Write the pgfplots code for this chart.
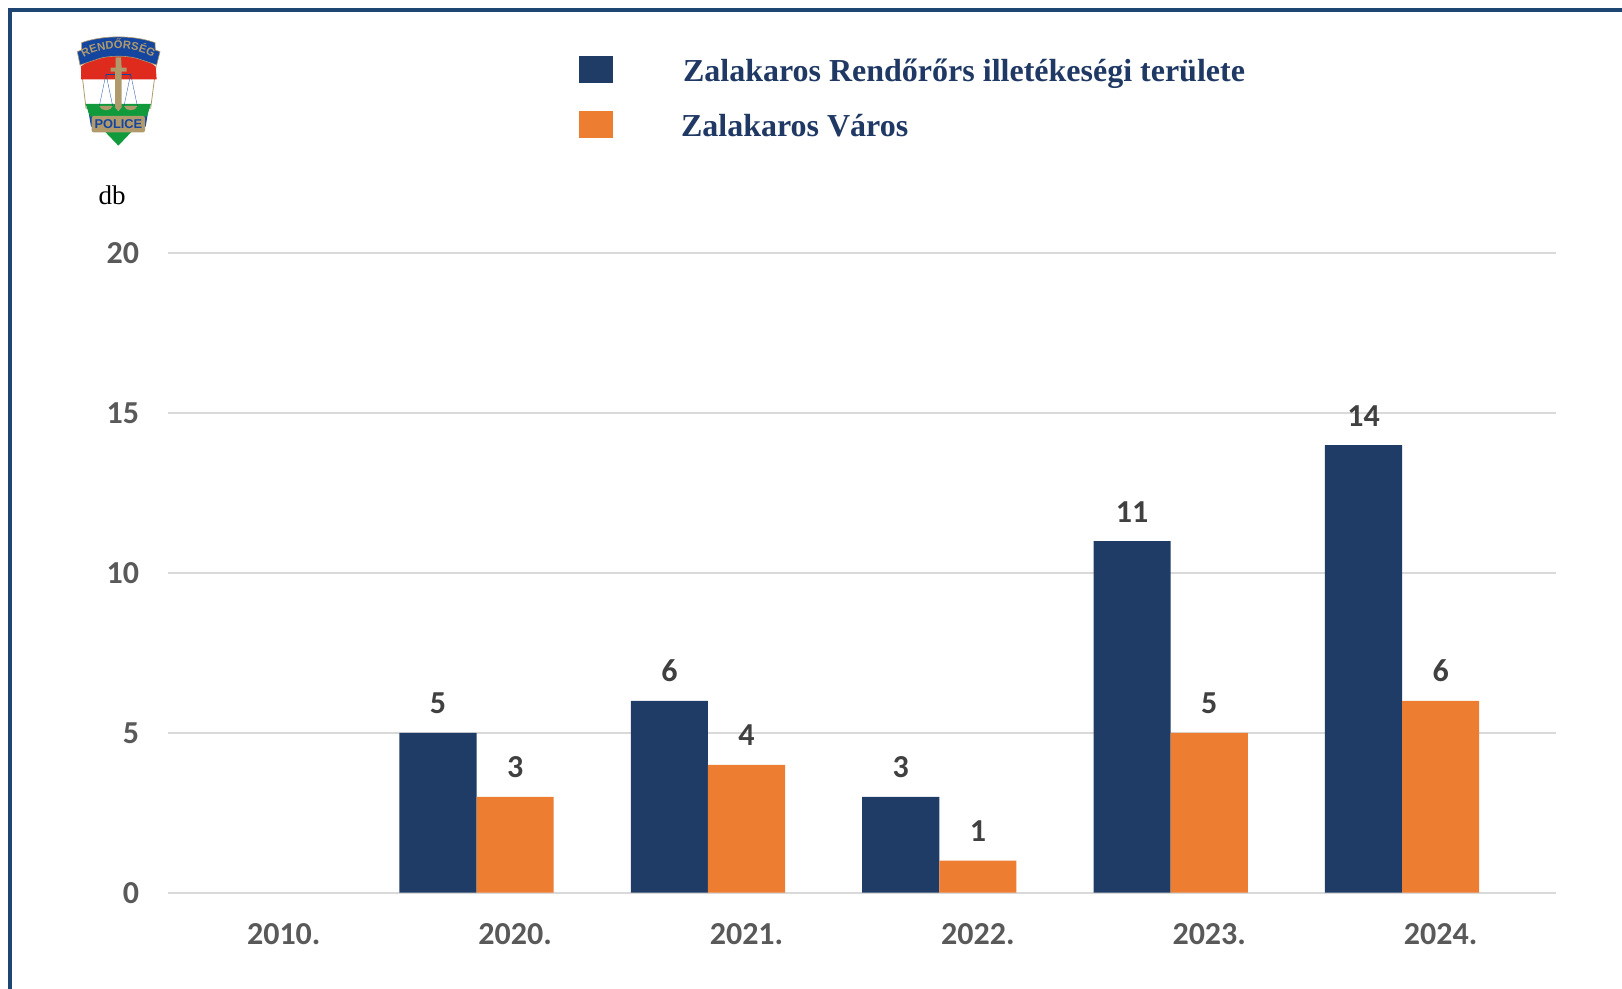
\documentclass[border=0pt]{standalone}
\usepackage{fontspec}
\setmainfont{Carlito}
\newfontfamily\legendfont{Liberation Serif}
\newfontfamily\logofont{Liberation Sans}
\usepackage{pgfplots}
\pgfplotsset{compat=1.18}
\usetikzlibrary{decorations.text}
\definecolor{navy}{HTML}{1F3864}
\definecolor{barblue}{HTML}{1E3C66}
\definecolor{barorange}{HTML}{ED7D31}
\definecolor{framecol}{HTML}{1F4673}
\definecolor{gridgrey}{HTML}{D9D9D9}
\definecolor{tickgrey}{HTML}{595959}
\definecolor{labelgrey}{HTML}{404040}
\definecolor{logotan}{HTML}{B09A6C}
\definecolor{logoblue}{HTML}{1446A0}
\definecolor{logored}{HTML}{DF2A1E}
\definecolor{logogreen}{HTML}{119A3C}
\begin{document}
\begin{tikzpicture}
\begin{axis}[
    /pgf/number format/assume math mode=true,
    scale only axis,
    width=694.1pt, height=319.65pt,
    xmin=-0.5, xmax=5.5,
    ymin=0, ymax=20,
    ytick={0,5,10,15,20},
    xtick={0,1,2,3,4,5},
    xticklabels={2010.,2020.,2021.,2022.,2023.,2024.},
    ymajorgrids,
    major grid style={gridgrey, line width=1pt},
    axis line style={draw=none},
    major tick length=0pt,
    tick label style={font=\fontsize{16}{18}\selectfont\bfseries, text=tickgrey},
    yticklabel style={xshift=-11pt},
    xticklabel style={yshift=-12pt},
    ybar,
    bar width=0.3333,
    nodes near coords,
    every node near coord/.append style={font=\fontsize{16}{18}\selectfont\bfseries, text=labelgrey, yshift=6pt},
    legend style={at={(axis description cs:0.296,1.3097)}, anchor=north west, draw=none, fill=none,
        font=\legendfont\fontsize{16}{18}\selectfont\bfseries, text=navy,
        inner sep=0pt, outer sep=0pt, row sep=10.8pt, column sep=33pt},
    legend cell align=left,
    legend image code/.code={\fill[#1, draw=none] (0pt,-5.25pt) rectangle (17pt,8.25pt);},
]
\addplot[fill=barblue, draw=none, bar shift=-0.3333] coordinates {(1,5) (2,6) (3,3) (4,11) (5,14)};
\addlegendentry{Zalakaros Rendőrőrs illetékeségi területe}
\addplot[fill=barorange, draw=none, bar shift=0] coordinates {(1,3) (2,4) (3,1) (4,5) (5,6)};
\addlegendentry{\hspace*{-1pt}Zalakaros Város}
\end{axis}
% everything below in pixels of the reference
\begin{scope}[shift={(-84.05pt,446.35pt)}, x=0.5pt, y=-0.5pt]
\path[use as bounding box] (0,0) rectangle (1622,989);
\draw[framecol, line width=2pt] (10,989) -- (10,10.5) -- (1622,10.5);
\node[font=\legendfont\fontsize{13.5}{16}\selectfont, text=black] at (112,195) {db};
\end{scope}
% logo, units are 1/3 px
\begin{scope}[shift={(-84.05pt,446.35pt)}, x=0.16667pt, y=-0.16667pt]
\fill[white, draw=logotan, line width=0.4pt] (240,170) -- (258,325) -- (452,325) -- (472,170) -- cycle;
\fill[logored] (243,200) .. controls (290,155) and (420,155) .. (467,200) -- (470,238) -- (243,238) -- cycle;
\fill[logoblue] (265,332) -- (445,332) -- (437,380) -- (273,380) -- cycle;
\fill[logogreen] (257,312) -- (453,312) -- (440,350) -- (270,350) -- cycle;
\fill[logogreen] (315,395) -- (395,395) -- (355,437) -- cycle;
\fill[logoblue, draw=logotan, line width=0.3pt] (245,128) .. controls (310,105) and (400,105) .. (465,128)
    -- (466,150) -- (480,155) -- (470,195) -- (425,180) .. controls (390,165) and (320,165) .. (285,180)
    -- (240,195) -- (232,155) -- (245,150) -- cycle;
\path[decorate, decoration={text along path, text align=center,
    text={|\logofont\fontsize{5.6}{6}\selectfont\bfseries\color{logotan}|RENDŐRSÉG}}]
    (255,170) .. controls (310,138) and (400,138) .. (455,170);
\fill[logotan, rounded corners=1pt] (275,348) rectangle (435,397);
\node[font=\logofont\fontsize{6.4}{7}\selectfont\bfseries, text=logoblue, inner sep=0pt] at (355,373) {POLICE};
\draw[logoblue, line width=0.25pt] (318,222) -- (392,222);
\draw[logoblue, line width=0.15pt] (298,318) -- (318,222) -- (338,318) (372,318) -- (392,222) -- (412,318);
\fill[logotan] (298,318) -- (338,318) .. controls (335,335) and (301,335) .. (298,318);
\fill[logotan] (372,318) -- (412,318) .. controls (409,335) and (375,335) .. (372,318);
\fill[logotan] (347,172) -- (363,172) -- (365,203) -- (380,203) -- (380,215) -- (365,215) -- (365,322)
    -- (355,334) -- (345,322) -- (345,215) -- (332,215) -- (332,203) -- (347,203) -- cycle;
\end{scope}
\end{tikzpicture}
\end{document}
